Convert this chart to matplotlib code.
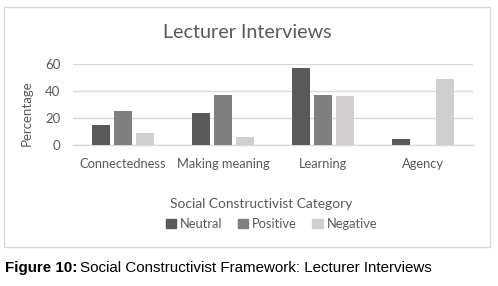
import matplotlib
matplotlib.use("Agg")
import matplotlib.pyplot as plt
from matplotlib.patches import Rectangle, Patch
import numpy as np

categories = ["Connectedness", "Making meaning", "Learning", "Agency"]
series_names = ["Neutral", "Positive", "Negative"]
neutral = [15, 24, 57, 4.5]
positive = [25, 37.5, 37.5, 0]
negative = [9, 6, 36.5, 49]
yticks = [0, 20, 40, 60]

colors = ["#595959", "#7f7f7f", "#d0cece"]
txt = "#595959"
font = "Lato"

W, H = 498, 286
fig = plt.figure(figsize=(W / 100, H / 100), dpi=100)

# chart border
fig.patches.append(Rectangle((4 / W, 1 - 247 / H), 486 / W, 240 / H,
                             transform=fig.transFigure, fill=False,
                             edgecolor="#d9d9d9", linewidth=1.0))

ax = fig.add_axes([72.7 / W, 1 - 145 / H, 400.3 / W, (145 - 64.3) / H])
x = np.arange(len(categories))
bw = 0.177
step = 0.22
for i, (vals, name) in enumerate(zip([neutral, positive, negative], series_names)):
    ax.bar(x + (i - 1) * step, vals, width=bw, color=colors[i], label=name, zorder=3)

ax.set_xlim(-0.5, len(categories) - 0.5)
ax.set_ylim(0, 60)
ax.set_yticks(yticks)
ax.yaxis.grid(True, color="#d9d9d9", linewidth=1.0, zorder=0)
for s in ["top", "right", "left"]:
    ax.spines[s].set_visible(False)
ax.spines["bottom"].set_color("#d9d9d9")
ax.spines["bottom"].set_linewidth(1.0)
ax.tick_params(axis="both", length=0, colors=txt)
ax.set_xticks(x)
ax.set_xticklabels(categories, fontfamily=font, fontsize=9.3, color=txt)
for lab in ax.get_yticklabels():
    lab.set_fontfamily(font)
    lab.set_fontsize(9.5)
ax.tick_params(axis="x", pad=9)
ax.tick_params(axis="y", pad=9)

fig.text(247 / W, 1 - 33 / H, "Lecturer Interviews", ha="center", va="center",
         fontfamily=font, fontsize=14.2, color=txt)
fig.text(27 / W, 1 - 113 / H, "Percentage", ha="center", va="center", rotation=90,
         fontfamily=font, fontsize=9.5, color=txt)
fig.text(261 / W, 1 - 204 / H, "Social Constructivist Category", ha="center", va="center",
         fontfamily=font, fontsize=9.9, color=txt)

handles = [Patch(color=c) for c in colors]
leg = fig.legend(handles, series_names, loc="center", bbox_to_anchor=(271.5 / W, 1 - 224 / H),
                 ncol=3, frameon=False, prop={"family": font, "size": 9.3},
                 handlelength=0.8, handleheight=0.8, handletextpad=0.3, columnspacing=1.2,
                 borderaxespad=0, borderpad=0)
for t in leg.get_texts():
    t.set_color(txt)

cy = 1 - 268 / H
t1 = fig.text(5 / W, cy, "Figure 10:", ha="left", va="center",
              fontfamily="Liberation Sans", fontsize=10.9, fontweight="bold", color="black")
fig.canvas.draw()
bb = t1.get_window_extent()
fig.text(bb.x1 / W + 3 / W, cy, "Social Constructivist Framework: Lecturer Interviews",
         ha="left", va="center", fontfamily="Liberation Sans", fontsize=10.9, color="black")
fig.savefig("out.png", dpi=100)
